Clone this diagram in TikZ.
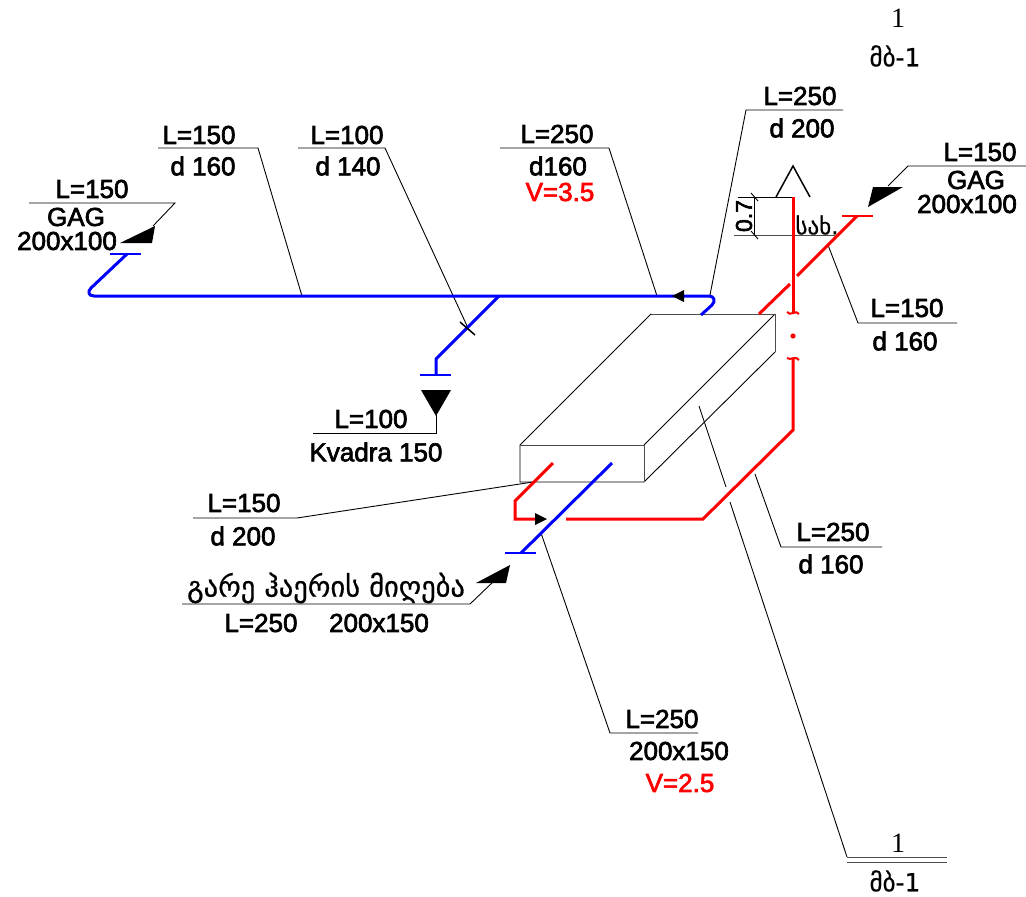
\documentclass[tikz,border=0pt]{standalone}
\usepackage{fontspec}
\usepackage{xcolor}
\setmainfont{Liberation Sans}
\newfontfamily\lblfont[FakeBold=2.5]{Liberation Sans}
\newfontfamily\geofont[FakeBold=0.6]{DejaVu Sans}
\newfontfamily\numfont{Liberation Serif}
\usetikzlibrary{positioning}
\tikzset{lbl/.style={inner sep=0pt,font=\lblfont\fontsize{26}{26}\selectfont},
  lblred/.style={lbl,text=red},
  geo/.style={inner sep=0pt,font=\geofont\fontsize{28.5}{29}\selectfont},
  geosmall/.style={inner sep=0pt,font=\geofont\fontsize{23}{23}\selectfont},
  sect/.style={inner sep=0pt,font=\numfont\fontsize{28}{28}\selectfont},
  leader/.style={line width=0.9pt,black},
  edge/.style={line width=0.9pt,black!70},
  pipeb/.style={line width=3pt,blue},
  piper/.style={line width=3pt,red},
  capb/.style={line width=2.2pt,blue},
  capr/.style={line width=2.2pt,red}}

\begin{document}
\begin{tikzpicture}[x=1pt,y=-1pt,>=stealth]
    \useasboundingbox (0,0) rectangle (1026,897);

    % texts
    \node[sect] (s1) at (898,18) {1};
    \node[geosmall,font=\geofont\fontsize{25}{25}\selectfont] (s2) at (895,56) {მბ-1};
    \node[lbl] (t1) at (800,96) {L=250};
    \node[lbl] (t2) at (802,128) {d 200};
    \node[lbl] (t3) at (980,152) {L=150};
    \node[lbl] (t4) at (976,180) {GAG};
    \node[lbl] (t5) at (967,204) {200x100};
    \node[lbl] (t6) at (907,308) {L=150};
    \node[lbl] (t7) at (905,341) {d 160};
    \node[lbl] (t8) at (92,189) {L=150};
    \node[lbl] (t9) at (76,217) {GAG};
    \node[lbl] (t10) at (67,241) {200x100};
    \node[lbl] (t11) at (199,135) {L=150};
    \node[lbl] (t12) at (203,166) {d 160};
    \node[lbl] (t13) at (347,135) {L=100};
    \node[lbl] (t14) at (348,166) {d 140};
    \node[lbl] (t15) at (557,134) {L=250};
    \node[lbl] (t16) at (558,166) {d160};
    \node[lblred] (t17) at (560,192) {V=3.5};
    \node[lbl] (t18) at (371,419) {L=100};
    \node[lbl] (t19) at (376,452) {Kvadra 150};
    \node[lbl] (t20) at (244,503) {L=150};
    \node[lbl] (t21) at (243,536) {d 200};
    \node[lbl] (t22) at (833,532) {L=250};
    \node[lbl] (t23) at (831,564) {d 160};
    \node[geo] (t24) at (326,588) {გარე ჰაერის მიღება};
    \node[lbl] (t25) at (261,623) {L=250};
    \node[lbl] (t26) at (379,623) {200x150};
    \node[lbl] (t27) at (662,719) {L=250};
    \node[lbl] (t28) at (679,751) {200x150};
    \node[lblred] (t29) at (680,783) {V=2.5};
    \node[sect] (s3) at (898,843) {1};
    \node[geosmall,font=\geofont\fontsize{25}{25}\selectfont] (s4) at (895,881) {მბ-1};
    \node[geosmall] (sax) at (817,225) {სახ.};
    \node[lbl,rotate=90,font=\lblfont\fontsize{23}{23}\selectfont] (dim) at (744,216) {0.7};

    % box
    \coordinate (b1) at (520,445);
    \coordinate (b2) at (651,314);
    \coordinate (b3) at (775,314);
    \coordinate (b4) at (644,445);
    \coordinate (b5) at (520,482);
    \coordinate (b6) at (644,482);
    \coordinate (b7) at (775,352);
    \draw [leader] (b1) -- (b2);
    \draw [leader] (b3) -- (b4);
    \draw [leader] (b7) -- (b6) -- (b5) -- (b1);
    \draw [edge] (b2) -- (b3) -- (b7);
    \draw [edge] (b1) -- (b4) -- (b6);

    % leaders
    \coordinate (l1a) at (843,110);
    \coordinate (l1b) at (746,110);
    \coordinate (l1c) at (710,295);
    \draw [leader] (l1a) -- (l1b) -- (l1c);
    \coordinate (l2a) at (1026,166);
    \coordinate (l2b) at (908,166);
    \coordinate (l2c) at (888,186);
    \draw [leader] (l2a) -- (l2b) -- (l2c);
    \coordinate (l3a) at (957,323);
    \coordinate (l3b) at (858,323);
    \coordinate (l3c) at (828,245);
    \draw [leader] (l3a) -- (l3b) -- (l3c);
    \coordinate (l4a) at (29,203);
    \coordinate (l4b) at (175,203);
    \coordinate (l4c) at (153,226);
    \draw [leader] (l4a) -- (l4b) -- (l4c);
    \coordinate (l5a) at (158,148);
    \coordinate (l5b) at (258,148);
    \coordinate (l5c) at (302,296);
    \draw [leader] (l5a) -- (l5b) -- (l5c);
    \coordinate (l6a) at (298,148);
    \coordinate (l6b) at (385,148);
    \coordinate (l6c) at (468,328);
    \draw [leader] (l6a) -- (l6b) -- (l6c);
    \coordinate (l7a) at (500,148);
    \coordinate (l7b) at (609,148);
    \coordinate (l7c) at (657,296);
    \draw [leader] (l7a) -- (l7b) -- (l7c);
    \coordinate (l8a) at (313,433);
    \coordinate (l8b) at (436,433);
    \coordinate (l8c) at (436,415);
    \draw [leader] (l8a) -- (l8b) -- (l8c);
    \coordinate (l9a) at (193,518);
    \coordinate (l9b) at (297,518);
    \coordinate (l9c) at (533,482);
    \draw [leader] (l9a) -- (l9b) -- (l9c);
    \coordinate (l10a) at (882,547);
    \coordinate (l10b) at (781,547);
    \coordinate (l10c) at (755,474);
    \draw [leader] (l10a) -- (l10b) -- (l10c);
    \coordinate (l11a) at (182,604);
    \coordinate (l11b) at (470,604);
    \coordinate (l11c) at (494,581);
    \draw [leader] (l11a) -- (l11b) -- (l11c);
    \coordinate (l12a) at (698,733);
    \coordinate (l12b) at (610,733);
    \coordinate (l12c) at (541,533);
    \draw [leader] (l12a) -- (l12b) -- (l12c);
    % section line
    \coordinate (c1) at (699,406);
    \coordinate (c2) at (726,487);
    \coordinate (c3) at (730,502);
    \coordinate (c4) at (847,857);
    \draw [leader] (c1) -- (c2);
    \draw [leader] (c3) -- (c4);
    \coordinate (c5) at (947,857);
    \coordinate (c6) at (847,862);
    \coordinate (c7) at (947,862);
    \draw [edge] (c4) -- (c5);
    \draw [edge] (c6) -- (c7);

    % vent and dimension
    \coordinate (v1) at (776,197);
    \coordinate (v2) at (793,166);
    \coordinate (v3) at (810,197);
    \draw [line width=1.5pt] (v1) -- (v2) -- (v3);
    \coordinate (d1) at (738,197);
    \coordinate (d2) at (793,197);
    \draw [leader] (d1) -- (d2);
    \coordinate (d3) at (734,235);
    \coordinate (d4) at (835,235);
    \draw [edge] (d3) -- (d4);
    \coordinate (d5) at (754,197);
    \coordinate (d6) at (754,235);
    \draw [leader] (d5) -- (d6);
    \draw [leader] (751,193) -- (758,201);
    \draw [leader] (751,231) -- (758,239);

    % pipes, blue
    \coordinate (p1) at (127,254);
    \coordinate (p2) at (91,288);
    \coordinate (p3) at (94,296);
    \coordinate (p4) at (709,296);
    \coordinate (p5) at (712,305);
    \coordinate (p6) at (701,315);
    \draw [pipeb] (p1) -- (p2) .. controls (87,292) and (89,296) .. (p3) -- (p4)
        .. controls (714,296) and (716,301) .. (p5) -- (p6);
    \coordinate (p7) at (499,296);
    \coordinate (p8) at (436,359);
    \coordinate (p9) at (436,375);
    \draw [pipeb] (p7) -- (p8) -- (p9);
    \coordinate (p10) at (612,463);
    \coordinate (p11) at (521,553);
    \draw [pipeb] (p10) -- (p11);
    \draw [capb] (110,254) -- (141,254);
    \draw [capb] (420,375) -- (451,375);
    \draw [capb] (505,553) -- (536,553);

    % pipes, red
    \coordinate (r1) at (793,197);
    \coordinate (r2) at (793,312);
    \draw [piper] (r1) -- (r2);
    \draw [line width=2pt,red] (787,312) .. controls (790,317) and (796,309) .. (799,314);
    \fill [red] (793,336) circle (2.6);
    \draw [line width=2pt,red] (787,358) .. controls (790,361) and (796,355) .. (799,360);
    \coordinate (r3) at (793,359);
    \coordinate (r4) at (793,430);
    \coordinate (r5) at (703,519);
    \coordinate (r6) at (566,519);
    \draw [piper] (r3) -- (r4) -- (r5) -- (r6);
    \coordinate (r7) at (553,463);
    \coordinate (r8) at (515,501);
    \coordinate (r9) at (515,519);
    \coordinate (r10) at (540,519);
    \draw [piper] (r7) -- (r8) -- (r9) -- (r10);
    \coordinate (r11) at (759,314);
    \coordinate (r12) at (790,284);
    \draw [piper] (r11) -- (r12);
    \coordinate (r13) at (797,276);
    \coordinate (r14) at (857,216);
    \draw [piper] (r13) -- (r14);
    \draw [capr] (842,216) -- (873,216);

    % arrows
    \fill (868,207) -- (903,187) -- (873,187) -- cycle;
    \fill (120,243) -- (155,226) -- (152,243) -- cycle;
    \fill (421,390) -- (451,390) -- (436,416) -- cycle;
    \fill (476,583) -- (510,565) -- (506,583) -- cycle;
    \fill (672,296) -- (684,290) -- (684,302) -- cycle;
    \fill (547,519) -- (535,513) -- (535,525) -- cycle;
    \draw [line width=1.5pt] (460,322) -- (475,335);
\end{tikzpicture}
\end{document}
